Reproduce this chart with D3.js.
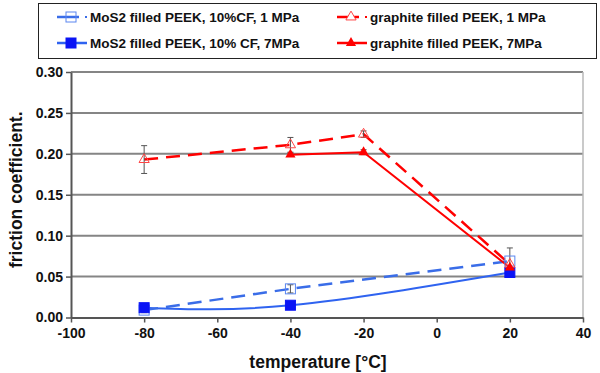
<!DOCTYPE html>
<html>
<head>
<meta charset="utf-8">
<script src="https://cdn.jsdelivr.net/npm/d3@7"></script>
<style>
  body { margin: 0; background: #fff; }
  svg { font-family: "Liberation Sans", Arial, sans-serif; font-weight: bold; }
</style>
</head>
<body>
<svg id="chart" width="600" height="373"></svg>
<script>
// data
const temps = [-80, -40, -20, 20];
const xTicks = [-100, -80, -60, -40, -20, 0, 20, 40];
const yTicks = [0, 0.05, 0.10, 0.15, 0.20, 0.25, 0.30];

const mos2_1 = [[-80, 0.009], [-40, 0.035], [20, 0.069]];
const mos2_1_err = [0.003, 0.005, 0.016];
const mos2_7 = [[-80, 0.012], [-40, 0.015], [20, 0.055]];
const graph_1 = [[-80, 0.193], [-40, 0.211], [-20, 0.224], [20, 0.065]];
const graph_1_err = [0.017, 0.009, 0.004, 0];
const graph_7 = [[-40, 0.199], [-20, 0.202], [20, 0.061]];
const graph_7_err = [0.002, 0.003, 0];

const legendLabels = [
  "MoS2 filled PEEK, 10%CF, 1 MPa",
  "graphite filled PEEK, 1 MPa",
  "MoS2 filled PEEK, 10% CF, 7MPa",
  "graphite filled PEEK, 7MPa"
];

const margin = { left: 71, right: 17, top: 72, bottom: 55.5 };
const svg = d3.select('#chart');
const width = 600 - margin.left - margin.right;
const height = 373 - margin.top - margin.bottom;

const xScale = d3.scaleLinear().domain([-100, 40]).range([margin.left, margin.left + width]);
const yScale = d3.scaleLinear().domain([0, 0.30]).range([margin.top + height, margin.top]);

// grid
svg.selectAll('.grid')
  .data(yTicks.filter(d => d > 0))
  .enter().append('line')
  .attr('x1', xScale(-100)).attr('x2', xScale(40))
  .attr('y1', d => yScale(d)).attr('y2', d => yScale(d))
  .attr('stroke', '#858585').attr('stroke-width', 2);

// right border
svg.append('line')
  .attr('x1', xScale(40)).attr('x2', xScale(40))
  .attr('y1', yScale(0.30)).attr('y2', yScale(0))
  .attr('stroke', '#b8b8b8').attr('stroke-width', 1.5);

// axes (plain hyphen for negatives, like the original)
const xAxis = svg.append('g')
  .attr('transform', `translate(0,${yScale(0)})`)
  .call(d3.axisBottom(xScale).tickValues(xTicks).tickSize(5).tickSizeOuter(0).tickPadding(6).tickFormat(d => String(d)));
const yAxis = svg.append('g')
  .attr('transform', `translate(${xScale(-100)},0)`)
  .call(d3.axisLeft(yScale).tickValues(yTicks).tickSize(5).tickSizeOuter(0).tickPadding(3).tickFormat(d => d.toFixed(2)));

[xAxis, yAxis].forEach(ax => {
  ax.select('.domain').attr('stroke', '#555').attr('stroke-width', 2);
  ax.selectAll('.tick line').attr('stroke', '#555').attr('stroke-width', 1.5);
  ax.selectAll('text').attr('fill', '#111').style('font-size', '14px').style('font-weight', 'bold')
    .style('font-family', '"Liberation Sans", Arial, sans-serif');
});

svg.append('text')
  .attr('x', 318).attr('y', 368)
  .attr('text-anchor', 'middle')
  .style('font-size', '17.5px').attr('fill', '#111')
  .text('temperature [°C]');

svg.append('text')
  .attr('transform', `translate(22,${(yScale(0) + yScale(0.3)) / 2 - 5}) rotate(-90)`)
  .attr('text-anchor', 'middle')
  .style('font-size', '17.5px').attr('fill', '#111')
  .text('friction coefficient.');

// lines
const straight = d3.line().x(d => xScale(d[0])).y(d => yScale(d[1]));
const smooth = d3.line().x(d => xScale(d[0])).y(d => yScale(d[1])).curve(d3.curveNatural);

svg.append('path').datum(mos2_7).attr('d', smooth)
  .attr('fill', 'none').attr('stroke', '#2f63f0').attr('stroke-width', 2);
svg.append('path').datum(mos2_1).attr('d', straight)
  .attr('fill', 'none').attr('stroke', '#3a6de8').attr('stroke-width', 2.5).attr('stroke-dasharray', '14,8');
svg.append('path').datum(graph_7).attr('d', straight)
  .attr('fill', 'none').attr('stroke', '#f00').attr('stroke-width', 2);
svg.append('path').datum(graph_1).attr('d', straight)
  .attr('fill', 'none').attr('stroke', '#f00').attr('stroke-width', 2.5).attr('stroke-dasharray', '14,8');

// error bars
const errBars = (pts, errs) => {
  const g = svg.append('g').attr('stroke', '#555').attr('stroke-width', 1);
  pts.forEach((d, i) => {
    const e = errs[i];
    if (!e) return;
    const x = xScale(d[0]);
    g.append('line').attr('x1', x).attr('x2', x).attr('y1', yScale(d[1] - e)).attr('y2', yScale(d[1] + e));
    [d[1] - e, d[1] + e].forEach(v => {
      g.append('line').attr('x1', x - 3).attr('x2', x + 3).attr('y1', yScale(v)).attr('y2', yScale(v));
    });
  });
};
errBars(mos2_1, mos2_1_err);
errBars(graph_1, graph_1_err);
errBars(graph_7, graph_7_err);

// markers
const tri = d3.symbol().type(d3.symbolTriangle).size(45);
const square = (g, x, y, filled, col) => g.append('rect')
  .attr('x', x - 5).attr('y', y - 5).attr('width', 10).attr('height', 10)
  .attr('fill', filled ? col : 'none').attr('stroke', col).attr('stroke-width', 1);

mos2_1.forEach(d => square(svg, xScale(d[0]), yScale(d[1]), false, '#5a86f0'));
mos2_7.forEach(d => square(svg, xScale(d[0]), yScale(d[1]), true, '#0a14f5'));
svg.selectAll('.t1').data(graph_1).enter().append('path')
  .attr('d', tri).attr('transform', d => `translate(${xScale(d[0])},${yScale(d[1])})`)
  .attr('fill', 'none').attr('stroke', '#f44').attr('stroke-width', 1);
svg.selectAll('.t7').data(graph_7).enter().append('path')
  .attr('d', tri).attr('transform', d => `translate(${xScale(d[0])},${yScale(d[1])})`)
  .attr('fill', '#f00');

// legend
const leg = svg.append('g');
leg.append('rect').attr('x', 38.5).attr('y', 3.5).attr('width', 558).attr('height', 55)
  .attr('fill', '#fff').attr('stroke', '#222').attr('stroke-width', 1);
const legItems = [
  { col: '#3a6de8', mk: 'sq', fill: false, dash: true, x: 57, y: 17 },
  { col: '#f00', mk: 'tri', fill: false, dash: true, x: 337, y: 17 },
  { col: '#2f63f0', mk: 'sq', fill: true, dash: false, x: 57, y: 43 },
  { col: '#f00', mk: 'tri', fill: true, dash: false, x: 337, y: 43 }
];
legItems.forEach((it, i) => {
  const g = leg.append('g');
  if (it.dash) {
    g.append('line').attr('x1', it.x).attr('x2', it.x + 22).attr('y1', it.y).attr('y2', it.y)
      .attr('stroke', it.col).attr('stroke-width', 2.5);
    g.append('rect').attr('x', it.x + 28).attr('y', it.y - 1).attr('width', 2).attr('height', 2).attr('fill', it.col);
  } else {
    g.append('line').attr('x1', it.x).attr('x2', it.x + 30).attr('y1', it.y).attr('y2', it.y)
      .attr('stroke', it.col).attr('stroke-width', 2.5);
  }
  const mx = it.x + 14;
  if (it.mk === 'sq') {
    square(g, mx, it.y, it.fill, it.fill ? '#0a14f5' : '#5a86f0');
  } else {
    g.append('path').attr('d', tri).attr('transform', `translate(${mx},${it.y})`)
      .attr('fill', it.fill ? '#f00' : '#fff').attr('stroke', it.fill ? 'none' : '#f44');
  }
  g.append('text').attr('x', it.x + 33).attr('y', it.y + 4.5)
    .style('font-size', '13.5px').attr('fill', '#111')
    .text(legendLabels[i]);
});
</script>
</body>
</html>
